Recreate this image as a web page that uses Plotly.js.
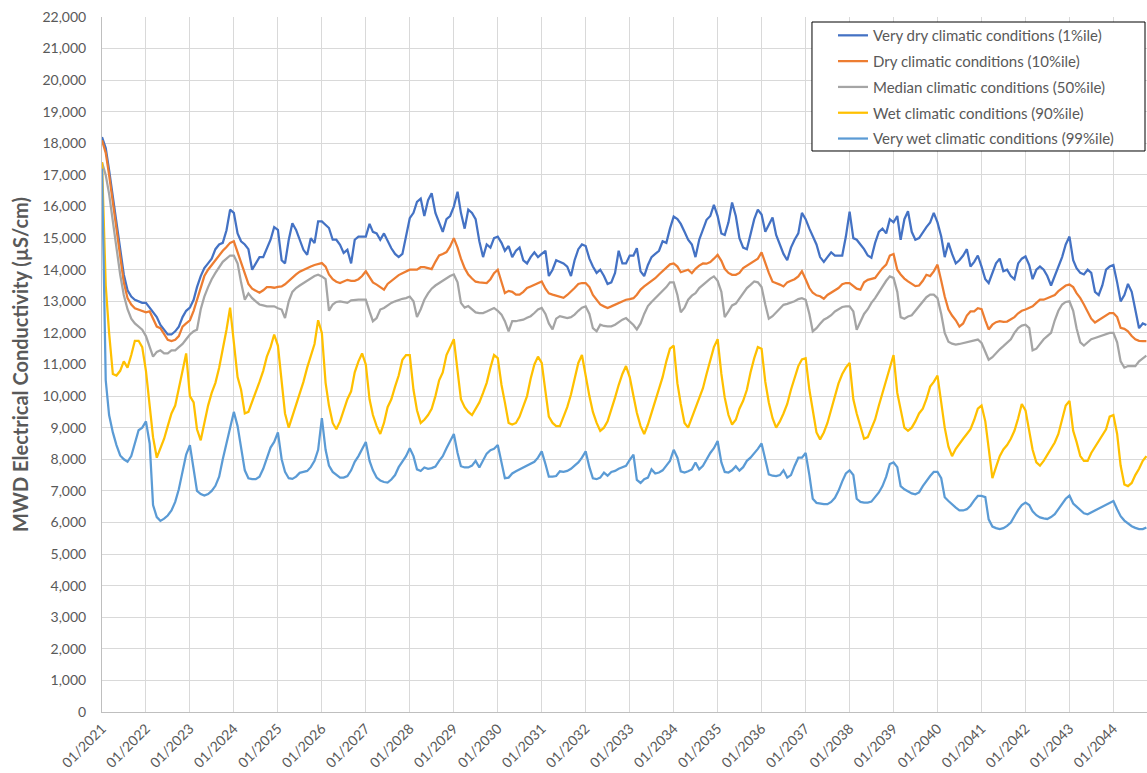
<!DOCTYPE html>
<html>
<head>
<meta charset="utf-8">
<script src="https://cdn.plot.ly/plotly-3.0.1.min.js"></script>
<style>html,body{margin:0;padding:0;background:#fff;}#chart{width:1147px;height:773px;}</style>
</head>
<body>
<div id="chart"></div>
<script>
// Monthly series, first value = 01/2021, last value = 10/2044
const startYear = 2021;
const seriesNames = [
  "Very dry climatic conditions (1%ile)",
  "Dry climatic conditions (10%ile)",
  "Median climatic conditions (50%ile)",
  "Wet climatic conditions (90%ile)",
  "Very wet climatic conditions (99%ile)"
];
const veryDry = [
  18200,17850,17150,16350,15500,14650,13850,13350,13150,13050,13000,12950,
  12950,12800,12650,12500,12250,12100,11950,11950,12050,12200,12500,12700,
  12800,13050,13450,13800,14050,14200,14350,14650,14800,14850,15250,15900,
  15800,15150,14900,14800,14650,14000,14200,14400,14400,14650,14950,15350,
  15260,14300,14200,14950,15470,15260,14950,14630,14470,15000,14840,15530,
  15530,15420,15320,14950,14950,14790,14530,14630,14200,14950,15050,15050,
  15050,15450,15200,15150,14950,15150,14900,14680,14500,14400,14500,15100,
  15630,15800,16150,16250,15700,16200,16420,15800,15500,15200,15600,15700,
  16000,16470,15800,15300,15900,15800,15600,14900,14400,14800,14700,15000,
  15050,14850,14600,14750,14400,14600,14700,14300,14200,14400,14550,14400,
  14500,14600,13800,14000,14300,14250,14200,14100,13800,14300,14650,14800,
  14750,14350,14100,13900,14000,13800,13550,13600,13900,14600,14200,14200,
  14450,14450,14680,13950,13800,14150,14400,14500,14600,14900,14850,15300,
  15680,15600,15450,15200,14950,14800,14400,14950,15300,15580,15700,16050,
  15700,15150,15100,15500,16130,15700,15000,14700,14650,15150,15600,15900,
  15750,15200,15400,15650,15100,14800,14500,14300,14700,14950,15150,15800,
  15600,15300,15050,14800,14400,14250,14400,14550,14450,14450,14450,15050,
  15840,15000,14950,14800,14650,14450,14380,14850,15200,15300,15150,15600,
  15500,15700,14950,15600,15850,15200,14950,15000,15200,15350,15500,15800,
  15500,15050,14400,14850,14500,14200,14300,14450,14650,14100,14250,14450,
  14100,13700,13580,13900,14200,14350,13950,14000,13800,13700,14200,14350,
  14420,14150,13700,14000,14100,14000,13800,13500,13800,14150,14400,14800,
  15050,14300,14050,13900,13850,14000,13900,13300,13200,13500,14000,14100,
  14150,13600,13000,13200,13550,13300,12700,12150,12300,12250
];
const dry = [
  18100,17700,17000,16100,15200,14300,13600,13100,12900,12780,12740,12700,
  12650,12680,12450,12200,12150,11950,11780,11740,11780,11900,12200,12300,
  12400,12700,13050,13450,13800,14000,14150,14300,14470,14600,14720,14850,
  14900,14550,14200,13850,13550,13400,13330,13270,13350,13450,13450,13430,
  13460,13470,13540,13650,13750,13850,13940,14000,14050,14100,14150,14180,
  14210,14100,13850,13700,13620,13580,13630,13680,13650,13650,13700,13800,
  13950,13750,13600,13530,13450,13370,13550,13650,13750,13830,13890,13950,
  14000,14000,14000,14080,14080,14050,14020,14250,14450,14500,14560,14740,
  15000,14700,14350,14050,13850,13720,13620,13600,13580,13580,13700,13890,
  14000,13600,13260,13330,13300,13210,13210,13300,13420,13470,13530,13580,
  13630,13400,13250,13210,13180,13150,13110,13200,13300,13420,13550,13580,
  13580,13450,13200,13050,12900,12840,12790,12840,12890,12950,13000,13050,
  13070,13100,13210,13370,13470,13550,13640,13730,13850,13960,14080,14170,
  14200,14100,13920,13950,14000,13890,14030,14130,14200,14190,14240,14350,
  14470,14280,14030,13900,13840,13840,13900,14050,14130,14190,14260,14350,
  14550,14200,13900,13620,13580,13530,13470,13600,13650,13700,13790,13950,
  13700,13420,13270,13190,13160,13080,13200,13280,13350,13420,13540,13580,
  13580,13500,13400,13370,13600,13680,13710,13740,13900,14050,14160,14450,
  14500,14000,13850,13720,13630,13550,13480,13500,13650,13840,13800,13950,
  14160,13650,13150,12740,12550,12400,12200,12300,12550,12680,12680,12780,
  12750,12400,12110,12260,12340,12370,12350,12360,12420,12500,12620,12700,
  12740,12780,12840,12950,13050,13050,13100,13150,13200,13320,13420,13500,
  13530,13450,13260,13100,12900,12650,12450,12330,12400,12470,12550,12630,
  12630,12500,12160,12130,12050,11900,11800,11750,11740,11740
];
const median = [
  17400,17000,16400,15600,14700,13850,13200,12750,12450,12300,12200,12100,
  11900,11550,11250,11400,11450,11350,11350,11450,11450,11550,11650,11800,
  11950,12050,12100,12750,13150,13450,13700,13900,14100,14250,14350,14450,
  14450,14200,13600,13050,13250,13100,13000,12900,12870,12840,12840,12840,
  12780,12740,12470,13000,13300,13420,13500,13580,13650,13740,13800,13840,
  13790,13700,12700,12900,12980,13000,12980,12950,13030,13050,13050,13050,
  13050,12680,12370,12470,12740,12790,12870,12950,13000,13050,13080,13100,
  13150,13000,12500,12750,13050,13250,13400,13500,13580,13650,13740,13800,
  13850,13600,12950,12800,12850,12740,12650,12630,12630,12680,12740,12790,
  12700,12580,12370,12050,12370,12370,12400,12420,12480,12530,12630,12740,
  12790,12600,12300,12110,12450,12530,12500,12470,12500,12580,12700,12800,
  12840,12600,12150,12050,12260,12220,12210,12210,12260,12350,12420,12470,
  12370,12250,12110,12300,12600,12850,12980,13100,13230,13350,13450,13600,
  13600,13200,12650,12800,13050,13180,13260,13420,13530,13630,13720,13790,
  13650,13300,12500,12680,12870,12930,13080,13260,13420,13520,13630,13600,
  13450,12900,12450,12530,12650,12780,12890,12920,12950,13000,13070,13100,
  13050,12600,12050,12150,12290,12420,12480,12560,12680,12760,12820,12840,
  12840,12680,12100,12350,12600,12750,12950,13100,13300,13450,13650,13790,
  13740,13300,12500,12450,12520,12560,12700,12850,13020,13130,13210,13210,
  13100,12600,12000,11720,11660,11630,11650,11680,11710,11740,11770,11790,
  11680,11400,11150,11230,11360,11480,11580,11700,11800,12000,12150,12230,
  12260,12150,11450,11500,11660,11800,11900,12000,12400,12700,12900,12980,
  13000,12700,12150,11700,11600,11700,11800,11840,11880,11930,11980,12000,
  12000,11700,11100,10900,10950,10950,10950,11100,11200,11280
];
const wet = [
  17400,13500,12000,10700,10650,10800,11100,10900,11300,11750,11750,11550,
  10800,9600,8700,8050,8350,8650,9050,9450,9700,10200,10800,11350,
  10000,9800,8950,8600,9150,9700,10100,10420,10900,11450,12100,12800,
  11600,10600,10200,9450,9500,9800,10100,10450,10800,11250,11550,11950,
  11600,10400,9450,9000,9350,9700,10050,10450,10900,11300,11650,12400,
  12000,10420,9700,9150,8950,9200,9580,9900,10150,10750,11100,11350,
  11000,9900,9400,9050,8800,9150,9650,9900,10300,10650,11150,11300,
  11300,10200,9550,9150,9250,9400,9600,10000,10500,10750,11300,11550,
  11800,10800,9900,9650,9500,9400,9600,9800,10100,10420,10900,11300,
  11200,10350,9800,9150,9100,9150,9350,9650,10000,10550,11000,11250,
  11050,10150,9350,9150,9050,9050,9350,9650,10050,10550,11050,11300,
  10600,10000,9500,9150,8900,9000,9200,9550,9950,10350,10700,10950,
  10600,10000,9470,9050,8800,9100,9450,9850,10250,10600,11100,11500,
  11600,10400,9750,9150,9000,9300,9600,9900,10250,10700,11150,11550,
  11800,10700,9950,9400,9100,9250,9600,9850,10200,10750,11200,11550,
  11500,10450,9800,9300,9000,9200,9450,9750,10200,10600,10950,11160,
  11200,10200,9600,8850,8630,8850,9150,9550,10000,10400,10700,10900,
  11050,9900,9450,9000,8650,8700,9000,9260,9700,10100,10500,10900,
  11300,10100,9550,9000,8900,9000,9200,9450,9600,9900,10300,10450,
  10650,9700,9000,8400,8100,8330,8500,8650,8800,8950,9250,9600,
  9700,9200,8350,7400,7750,8100,8310,8450,8650,8900,9300,9750,
  9550,8900,8300,7900,7800,7950,8150,8350,8530,8800,9250,9700,
  9850,8900,8550,8100,7950,7950,8200,8400,8600,8750,8950,9350,
  9400,8800,7800,7200,7150,7250,7500,7700,7950,8100
];
const veryWet = [
  17200,10500,9400,8850,8450,8120,8000,7920,8100,8550,8920,9000,
  9200,8500,6550,6170,6050,6120,6220,6380,6650,7050,7650,8150,
  8450,7750,7000,6900,6850,6900,7000,7160,7450,8000,8500,9000,
  9500,9050,8300,7650,7400,7370,7370,7450,7700,8050,8370,8550,
  8850,8000,7600,7400,7380,7450,7570,7600,7630,7750,7950,8300,
  9300,8300,7800,7600,7500,7420,7420,7470,7650,7920,8100,8300,
  8550,7950,7650,7420,7330,7280,7260,7360,7500,7750,7950,8100,
  8350,8100,7680,7630,7740,7700,7720,7770,7950,8100,8350,8550,
  8800,8200,7780,7740,7740,7800,7950,7740,7980,8180,8290,8330,
  8450,7950,7400,7420,7550,7620,7680,7720,7790,7850,7920,8050,
  8250,7850,7450,7450,7470,7620,7600,7630,7700,7800,7900,8050,
  8250,7750,7400,7370,7420,7580,7480,7600,7630,7700,7750,7790,
  7980,8150,7350,7250,7370,7420,7680,7550,7580,7650,7800,7950,
  8300,8050,7620,7580,7620,7680,7900,7680,7790,8000,8200,8350,
  8580,7900,7600,7580,7650,7780,7640,7750,7950,8050,8180,8330,
  8500,7950,7520,7480,7470,7500,7650,7420,7500,7790,8050,8050,
  8200,7500,6750,6620,6590,6580,6580,6650,6780,7000,7300,7550,
  7650,7500,6750,6650,6630,6630,6660,6800,6950,7150,7450,7850,
  7900,7750,7150,7050,6980,6920,6890,6950,7150,7320,7470,7600,
  7600,7400,6800,6680,6560,6470,6380,6380,6420,6530,6700,6840,
  6840,6800,6100,5870,5820,5790,5820,5890,6000,6200,6400,6550,
  6630,6550,6350,6230,6160,6130,6110,6170,6260,6420,6600,6750,
  6850,6600,6500,6380,6290,6260,6320,6380,6450,6500,6560,6630,
  6680,6420,6200,6060,5970,5880,5830,5790,5790,5840
];
const colors = ["#4472C4", "#ED7D31", "#A5A5A5", "#FFC000", "#5B9BD5"];

const allSeries = [veryDry, dry, median, wet, veryWet];
const dates = veryDry.map((_, i) => {
  const y = startYear + Math.floor(i / 12);
  const m = (i % 12) + 1;
  return y + "-" + (m < 10 ? "0" + m : m) + "-01";
});

const traces = allSeries.map((vals, k) => ({
  type: "scatter",
  mode: "lines",
  x: dates,
  y: vals,
  name: seriesNames[k],
  legendgroup: "g" + k,
  line: {color: colors[k], width: 2.25},
  hoverinfo: "x+y+name"
}));

const FONT = "Lato, 'Liberation Sans', Arial, sans-serif";
const layout = {
  width: 1147,
  height: 773,
  margin: {l: 102, r: 0, t: 17, b: 61, pad: 0},
  paper_bgcolor: "#ffffff",
  plot_bgcolor: "#ffffff",
  font: {family: FONT, color: "#595959", size: 14},
  showlegend: true,
  legend: {
    x: 0.6995, y: 0.997, xanchor: "left", yanchor: "top",
    bgcolor: "rgba(0,0,0,0)", borderwidth: 0,
    font: {family: FONT, size: 15, color: "#595959"},
    tracegroupgap: 3.3,
    traceorder: "grouped"
  },
  shapes: [{
    type: "rect", xref: "paper", yref: "paper",
    x0: 0.6794, x1: 0.9981, y0: 0.8072, y1: 0.9928,
    line: {color: "#000000", width: 1},
    fillcolor: "#ffffff",
    layer: "above"
  }],
  xaxis: {
    type: "date",
    range: ["2021-01-01", "2044-10-06"],
    tick0: "2021-01-01",
    dtick: "M12",
    tickformat: "%m/%Y",
    tickangle: -45,
    ticks: "",
    showgrid: true,
    gridcolor: "#D9D9D9",
    gridwidth: 1,
    showline: true,
    linecolor: "#BFBFBF",
    linewidth: 1,
    zeroline: false,
    tickfont: {family: FONT, size: 14, color: "#595959"},
    ticklabelstandoff: 2,
    fixedrange: true
  },
  yaxis: {
    range: [0, 22000],
    tick0: 0,
    dtick: 1000,
    tickformat: ",d",
    ticks: "",
    showgrid: true,
    gridcolor: "#D9D9D9",
    gridwidth: 1,
    showline: true,
    linecolor: "#BFBFBF",
    linewidth: 1,
    zeroline: false,
    tickfont: {family: FONT, size: 14, color: "#595959"},
    ticklabelstandoff: 12,
    title: {
      text: "<b>MWD Electrical Conductivity (µS/cm)</b>",
      font: {family: FONT, size: 20, color: "#595959"},
      standoff: 8
    },
    fixedrange: true
  }
};

Plotly.newPlot("chart", traces, layout, {displayModeBar: false, staticPlot: true});
</script>
</body>
</html>
